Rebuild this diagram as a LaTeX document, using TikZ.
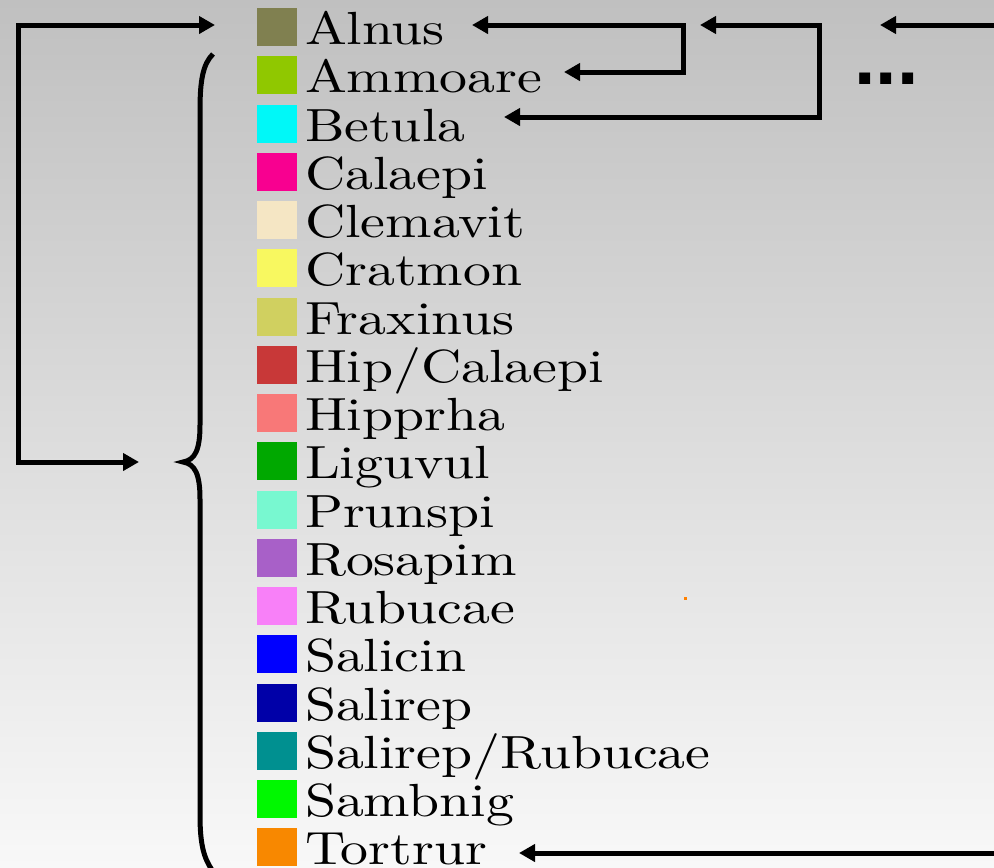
\documentclass[tikz,border=0pt]{standalone}
\usepackage{fontspec}
\newfontfamily\dotfont{Liberation Sans}
\newfontfamily\lmten{lmroman10-regular}[Extension=.otf]
\usetikzlibrary{arrows.meta}
\definecolor{cAlnus}{HTML}{808050}
\definecolor{cAmmo}{HTML}{90C800}
\definecolor{cBetula}{HTML}{00F8F8}
\definecolor{cCalaepi}{HTML}{F80090}
\definecolor{cClemavit}{HTML}{F5E6C4}
\definecolor{cCratmon}{HTML}{F8F860}
\definecolor{cFraxinus}{HTML}{D0D060}
\definecolor{cHipCal}{HTML}{C83838}
\definecolor{cHipprha}{HTML}{F87878}
\definecolor{cLiguvul}{HTML}{00A800}
\definecolor{cPrunspi}{HTML}{78F8D0}
\definecolor{cRosapim}{HTML}{A860C8}
\definecolor{cRubucae}{HTML}{F880F8}
\definecolor{cSalicin}{HTML}{0000FF}
\definecolor{cSalirep}{HTML}{0000A8}
\definecolor{cSalRub}{HTML}{009090}
\definecolor{cSambnig}{HTML}{00F800}
\definecolor{cTortrur}{HTML}{F88800}
\definecolor{bgTop}{HTML}{C0C0C0}
\definecolor{bgBot}{HTML}{F8F8F8}
\newcommand\wideLabel[1]{\scalebox{1.2}[1]{#1}}
\begin{document}
\begin{tikzpicture}[x=1pt,y=-1pt,
  conn/.style={line width=5pt,-{Triangle[length=16pt,width=17pt]}},
  conntwo/.style={line width=5pt,{Triangle[length=16pt,width=17pt]}-{Triangle[length=16pt,width=17pt]}},
  swatch/.style={minimum width=40pt,minimum height=38pt,inner sep=0pt,outer sep=0pt,anchor=north west},
  lbl/.style={anchor=base west,inner sep=0pt,outer sep=0pt,font=\lmten\fontsize{46.5}{50}\selectfont}]
\useasboundingbox (0,0) rectangle (994,868);
\fill[top color=bgTop,bottom color=bgBot] (0,0) rectangle (994,868);

% swatches
\node[swatch,fill=cAlnus]    (s0)  at (257,8) {};
\node[swatch,fill=cAmmo]     (s1)  at (257,56.25) {};
\node[swatch,fill=cBetula]   (s2)  at (257,104.5) {};
\node[swatch,fill=cCalaepi]  (s3)  at (257,152.75) {};
\node[swatch,fill=cClemavit] (s4)  at (257,201) {};
\node[swatch,fill=cCratmon]  (s5)  at (257,249.25) {};
\node[swatch,fill=cFraxinus] (s6)  at (257,297.5) {};
\node[swatch,fill=cHipCal]   (s7)  at (257,345.75) {};
\node[swatch,fill=cHipprha]  (s8)  at (257,394) {};
\node[swatch,fill=cLiguvul]  (s9)  at (257,442.25) {};
\node[swatch,fill=cPrunspi]  (s10) at (257,490.5) {};
\node[swatch,fill=cRosapim]  (s11) at (257,538.75) {};
\node[swatch,fill=cRubucae]  (s12) at (257,587) {};
\node[swatch,fill=cSalicin]  (s13) at (257,635.25) {};
\node[swatch,fill=cSalirep]  (s14) at (257,683.5) {};
\node[swatch,fill=cSalRub]   (s15) at (257,731.75) {};
\node[swatch,fill=cSambnig]  (s16) at (257,780) {};
\node[swatch,fill=cTortrur]  (s17) at (257,828.25) {};

% labels
\node[lbl] (t0)  at (305,44.5)   {\wideLabel{Alnus}};
\node[lbl] (t1)  at (305,92.75)  {\wideLabel{Ammoare}};
\node[lbl] (t2)  at (305,141)    {\wideLabel{Betula}};
\node[lbl] (t3)  at (305,189.25) {\wideLabel{Calaepi}};
\node[lbl] (t4)  at (305,237.5)  {\wideLabel{Clemavit}};
\node[lbl] (t5)  at (305,285.75) {\wideLabel{Cratmon}};
\node[lbl] (t6)  at (305,334)    {\wideLabel{Fraxinus}};
\node[lbl] (t7)  at (305,382.25) {\wideLabel{Hip/Calaepi}};
\node[lbl] (t8)  at (305,430.5)  {\wideLabel{Hipprha}};
\node[lbl] (t9)  at (305,478.75) {\wideLabel{Liguvul}};
\node[lbl] (t10) at (305,527)    {\wideLabel{Prunspi}};
\node[lbl] (t11) at (305,575.25) {\wideLabel{Rosapim}};
\node[lbl] (t12) at (305,623.5)  {\wideLabel{Rubucae}};
\node[lbl] (t13) at (305,671.75) {\wideLabel{Salicin}};
\node[lbl] (t14) at (305,720)    {\wideLabel{Salirep}};
\node[lbl] (t15) at (305,768.25) {\wideLabel{Salirep/Rubucae}};
\node[lbl] (t16) at (305,816.5)  {\wideLabel{Sambnig}};
\node[lbl] (t17) at (305,864.75) {\wideLabel{Tortrur}};

% ellipsis
\node[anchor=base west,inner sep=0pt,font=\dotfont\bfseries\fontsize{77}{80}\selectfont] (dots) at (854,84) {...};

% brace
\draw[line width=5pt] (213,54) .. controls (203,64) and (200,80) .. (200,110)
  -- (200,425) .. controls (200,450) and (195,460) .. (183,462)
  .. controls (195,464) and (200,474) .. (200,499)
  -- (200,815) .. controls (200,845) and (204,858) .. (212,870);

% connectors
\coordinate (la1) at (215,25);
\coordinate (lc1) at (18,25);
\coordinate (lc2) at (18,462);
\coordinate (la2) at (139,462);
\draw[conntwo] (la1) -- (lc1) -- (lc2) -- (la2);

\coordinate (ra1) at (472,25);
\coordinate (rc1) at (683,25);
\coordinate (rc2) at (683,72);
\coordinate (ra2) at (564,72);
\draw[conntwo] (ra1) -- (rc1) -- (rc2) -- (ra2);

\coordinate (rb1) at (700,25);
\coordinate (rd1) at (819,25);
\coordinate (rd2) at (819,117);
\coordinate (rb2) at (504,117);
\draw[conntwo] (rb1) -- (rd1) -- (rd2) -- (rb2);

\coordinate (e1) at (994,25);
\coordinate (e2) at (880,25);
\draw[conn] (e1) -- (e2);

\coordinate (f1) at (994,853);
\coordinate (f2) at (519,853);
\draw[conn] (f1) -- (f2);

% stray dot
\fill[orange] (684,597) rectangle (687,600);
\end{tikzpicture}
\end{document}
